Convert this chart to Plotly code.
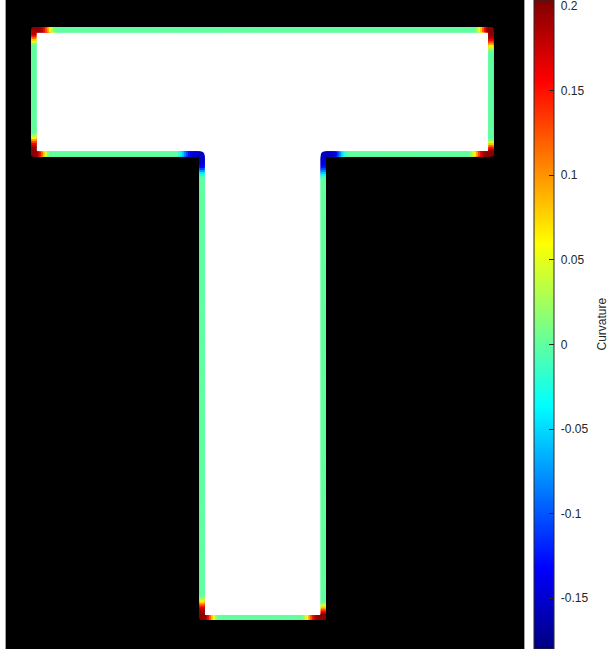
import numpy as np
import plotly.graph_objects as go

# ---- data (image pixel coordinates, y downward) ----
shape_x = [27.8, 485.0, 485.0, 317.3, 317.3, 196.0, 196.0, 27.8]
shape_y = [29.8, 29.8, 154.0, 154.0, 617.5, 617.5, 154.0, 154.0]
corner_type = ["convex", "convex", "convex", "concave", "convex", "convex", "concave", "convex"]

# curvature, by signed arc offset from each corner (px)
profile_offset = [-22, -20, -18, -16, -14, -12, -10, -8, -6, -4, -2, 0, 2, 4, 6,
                  8, 10, 12, 14, 16, 18, 20, 22, 24, 26]
convex_curv = [0.0, 0.0, 0.0, 0.0, 0.0, 0.02, 0.05, 0.08, 0.12, 0.155, 0.185, 0.2, 0.2,
               0.2, 0.198, 0.193, 0.182, 0.16, 0.13, 0.095, 0.062, 0.035, 0.012, 0.0, 0.0]
concave_curv = [0.0, -0.01, -0.025, -0.045, -0.075, -0.105, -0.13, -0.145, -0.15, -0.155,
                -0.155, -0.155, -0.155, -0.155, -0.152, -0.15, -0.145, -0.138, -0.125, -0.105,
                -0.08, -0.055, -0.035, -0.015, 0.0]

cbar_ticks = [-0.15, -0.1, -0.05, 0, 0.05, 0.1, 0.15, 0.2]
cbar_text = ["-0.15", "-0.1", "-0.05", "0", "0.05", "0.1", "0.15", "0.2"]
c_min, c_max = -0.180, 0.2035

img_w, img_h = 518, 649

jet = [[0, "rgb(0,0,128)"], [0.125, "rgb(0,0,255)"], [0.375, "rgb(0,255,255)"],
       [0.625, "rgb(255,255,0)"], [0.875, "rgb(255,0,0)"], [1, "rgb(128,0,0)"]]

# ---- build contour path with slightly rounded corners ----
V = np.array(list(zip(shape_x, shape_y)), dtype=float)
N = len(V)
radius = {"convex": 1.5, "concave": 3.5}

arcs = []
for i in range(N):
    P, prev, nxt = V[i], V[i - 1], V[(i + 1) % N]
    din = (P - prev) / np.linalg.norm(P - prev)
    dout = (nxt - P) / np.linalg.norm(nxt - P)
    r = radius[corner_type[i]]
    a, b = P - din * r, P + dout * r
    t = np.linspace(0, 1, 7)[:, None]
    arcs.append((1 - t) ** 2 * a + 2 * (1 - t) * t * P + t ** 2 * b)

pts = []
corner_idx = []
for i in range(N):
    arc = arcs[i]
    corner_idx.append(len(pts) + len(arc) // 2)
    pts.extend(arc.tolist())
    start = arc[-1]
    end = arcs[(i + 1) % N][0]
    L = np.linalg.norm(end - start)
    n = max(int(L), 2)
    for k in range(1, n):
        pts.append((start + (end - start) * k / n).tolist())
pts = np.array(pts)

seg = np.linalg.norm(np.diff(np.vstack([pts, pts[:1]]), axis=0), axis=1)
cum = np.concatenate([[0], np.cumsum(seg)[:-1]])
perim = seg.sum()
corner_s = cum[corner_idx]

prof = {"convex": convex_curv, "concave": concave_curv}
curv = []
for s in cum:
    d = (s - corner_s + perim / 2) % perim - perim / 2
    j = int(np.argmin(np.abs(d)))
    off = d[j]
    if profile_offset[0] - 1 <= off <= profile_offset[-1] + 1:
        k = int(np.argmin(np.abs(np.array(profile_offset) - off)))
        curv.append(prof[corner_type[j]][k])
    else:
        curv.append(0.0)

font = dict(family="Liberation Sans, Arial", size=12, color="#262626")

fig = go.Figure()
fig.add_trace(go.Scatter(
    x=np.append(pts[:, 0], pts[0, 0]), y=np.append(pts[:, 1], pts[0, 1]),
    mode="lines", fill="toself", fillcolor="white", line=dict(width=0, color="white"),
    hoverinfo="skip", showlegend=False))
fig.add_trace(go.Scatter(
    x=pts[:, 0], y=pts[:, 1], mode="markers", showlegend=False,
    marker=dict(symbol="square", size=5, color=curv, colorscale=jet, cmin=c_min, cmax=c_max,
                line=dict(width=0), showscale=True,
                colorbar=dict(
                    xref="container", x=534 / 610, xanchor="left", xpad=0,
                    yref="container", y=0.5, yanchor="middle", ypad=0,
                    lenmode="pixels", len=649, thickness=20,
                    outlinewidth=1, outlinecolor="#262626",
                    tickvals=cbar_ticks, ticktext=["\u00a0" + t for t in cbar_text],
                    ticks="inside", ticklen=5, ticklabeloverflow="allow",
                    tickcolor="#262626", tickwidth=1, tickfont=font,
                ))))

fig.add_annotation(text="Curvature", xref="paper", yref="paper",
                   x=(601 - 6) / img_w, y=0.5, xanchor="center", yanchor="middle",
                   textangle=-90, showarrow=False, font=font)

fig.update_layout(
    width=610, height=649,
    margin=dict(l=6, r=86, t=0, b=0, autoexpand=False),
    paper_bgcolor="white", plot_bgcolor="black",
    xaxis=dict(range=[0, img_w], showgrid=False, zeroline=False, showticklabels=False,
               ticks="", showline=False, fixedrange=True),
    yaxis=dict(range=[img_h, 0], showgrid=False, zeroline=False, showticklabels=False,
               ticks="", showline=True, mirror=True, linecolor="#a0a0a0", linewidth=1,
               fixedrange=True),
)

fig.write_html("out.html")
